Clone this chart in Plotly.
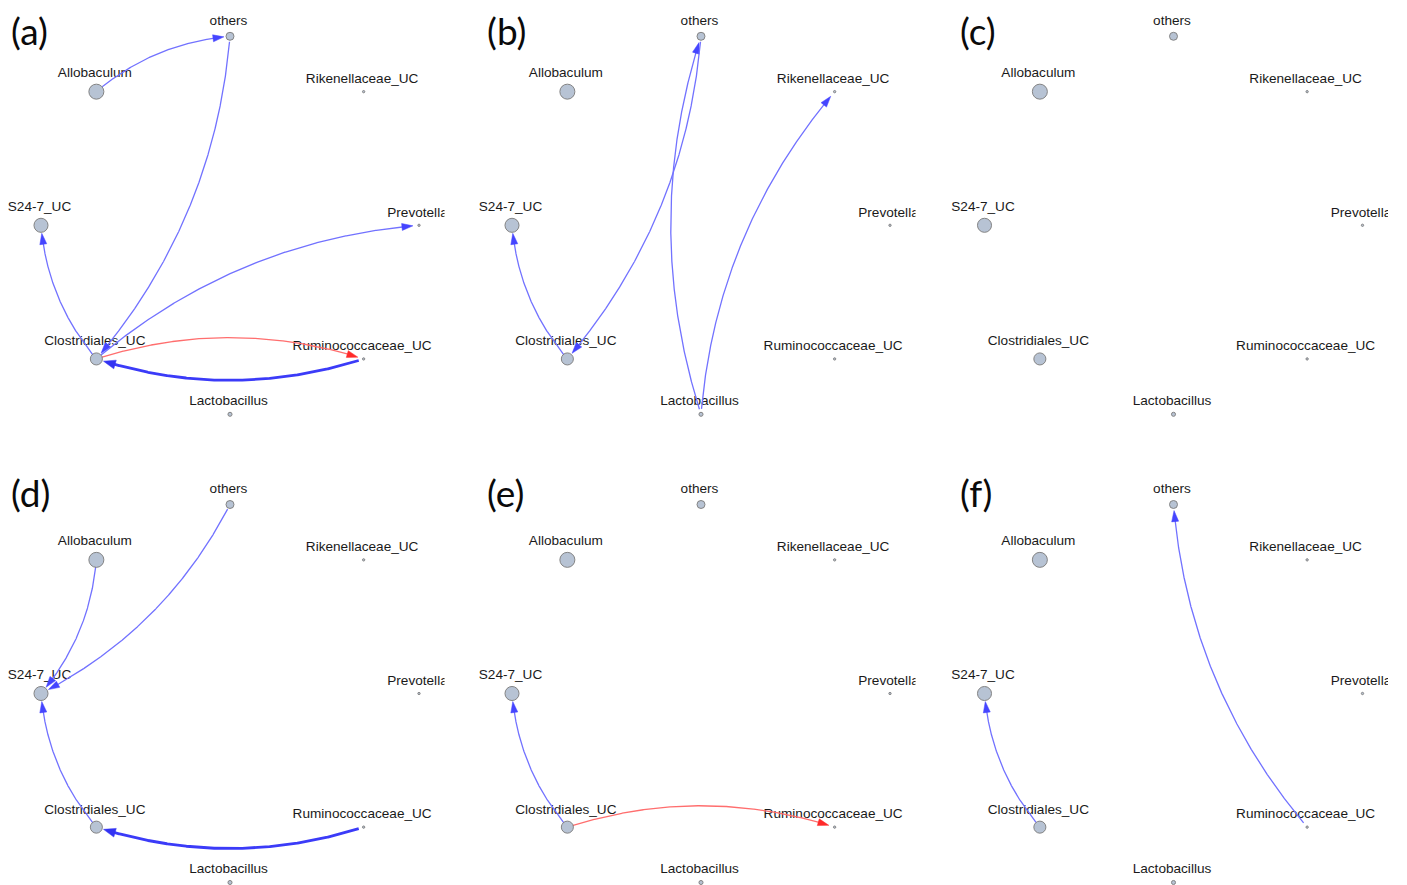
import numpy as np
import plotly.graph_objects as go

W, H = 1407, 885

# ---------------- data ----------------
nodes = ["others", "Allobaculum", "S24-7_UC", "Clostridiales_UC", "Lactobacillus",
         "Ruminococcaceae_UC", "Prevotella", "Rikenellaceae_UC"]
node_abundance = [0.48, 1.0, 0.93, 0.78, 0.19, 0.06, 0.06, 0.06]

panel_labels = ["(a)", "(b)", "(c)", "(d)", "(e)", "(f)"]

# (source, target, sign, weight)   sign: -1 blue, +1 red
edges_a = [("Allobaculum", "others", -1, 1),
           ("others", "Clostridiales_UC", -1, 1),
           ("Clostridiales_UC", "S24-7_UC", -1, 1),
           ("Clostridiales_UC", "Prevotella", -1, 1),
           ("Clostridiales_UC", "Ruminococcaceae_UC", 1, 1),
           ("Ruminococcaceae_UC", "Clostridiales_UC", -1, 3)]
edges_b = [("Clostridiales_UC", "S24-7_UC", -1, 1),
           ("Lactobacillus", "others", -1, 1),
           ("others", "Clostridiales_UC", -1, 1),
           ("Lactobacillus", "Rikenellaceae_UC", -1, 1)]
edges_c = []
edges_d = [("Allobaculum", "S24-7_UC", -1, 1),
           ("others", "S24-7_UC", -1, 1),
           ("Clostridiales_UC", "S24-7_UC", -1, 1),
           ("Ruminococcaceae_UC", "Clostridiales_UC", -1, 3)]
edges_e = [("Clostridiales_UC", "S24-7_UC", -1, 1),
           ("Clostridiales_UC", "Ruminococcaceae_UC", 1, 1)]
edges_f = [("Clostridiales_UC", "S24-7_UC", -1, 1),
           ("Ruminococcaceae_UC", "others", -1, 1)]
panel_edges = [edges_a, edges_b, edges_c, edges_d, edges_e, edges_f]

# ---------------- layout (circular) ----------------
R = 189.0
ang = np.deg2rad(90 + 45 * np.arange(len(nodes)))
pos = {n: np.array([R * np.cos(a), R * np.sin(a)]) for n, a in zip(nodes, ang)}
diam = {n: 1.5 + 13.5 * a for n, a in zip(nodes, node_abundance)}

# panel geometry in pixels (1 data unit = 1 px)
col_left = [0, 471, 943.5]
panel_w = 444.5
row_top = [0, 468]
row_h = [440, 417]
cx_off = 230
cy_off = [225.3, 225.5]

fig = go.Figure()
layout_axes = {}


def bezier(p0, p1, k=0.16, n=600):
    d = p1 - p0
    perp = np.array([-d[1], d[0]])
    c = (p0 + p1) / 2 + k * perp
    t = np.linspace(0, 1, n)[:, None]
    return (1 - t) ** 2 * p0 + 2 * (1 - t) * t * c + t ** 2 * p1


for i in range(6):
    r, c = divmod(i, 3)
    ax = "" if i == 0 else str(i + 1)
    x0 = col_left[c]
    y0 = row_top[r]
    layout_axes["xaxis" + ax] = dict(
        domain=[x0 / W, (x0 + panel_w) / W],
        range=[-cx_off, panel_w - cx_off], visible=False, fixedrange=True,
        anchor="y" + ax)
    layout_axes["yaxis" + ax] = dict(
        domain=[1 - (y0 + row_h[r]) / H, 1 - y0 / H],
        range=[cy_off[r] - row_h[r], cy_off[r]], visible=False, fixedrange=True,
        anchor="x" + ax)
    xa, ya = "x" + ax, "y" + ax

    # labels (drawn first; edges go over them)
    lx = [pos[n][0] - 1.5 for n in nodes]
    ly = [pos[n][1] + diam[n] / 2 + 11 for n in nodes]
    fig.add_trace(go.Scatter(
        x=lx, y=ly, text=nodes, mode="text", textposition="middle center",
        textfont=dict(family="Liberation Sans, Arial, sans-serif", size=13.6,
                      color="#1a1a1a"),
        cliponaxis=True, hoverinfo="skip", showlegend=False, xaxis=xa, yaxis=ya))

    # edges
    for (s, t, sign, w) in panel_edges[i]:
        p0, p1 = pos[s], pos[t]
        pts = bezier(p0, p1)
        ds = np.linalg.norm(pts - p0, axis=1)
        dt = np.linalg.norm(pts - p1, axis=1)
        r_start = max(diam[s] / 2, 5)
        r_tip = max(diam[t] / 2 + 1, 6)
        si = int(np.argmax(ds > r_start))
        ti = int(np.where(dt > r_tip)[0][-1])
        tip = pts[ti]
        alen = 11 if w == 1 else 12
        hw = 3.5 if w == 1 else 4.5
        j = ti
        while j > 0 and np.linalg.norm(pts[j] - tip) < alen:
            j -= 1
        u = tip - pts[j]
        u = u / np.linalg.norm(u)
        pu = np.array([-u[1], u[0]])
        base = tip - alen * u
        if sign < 0:
            lcol = "#7272ff" if w == 1 else "#3b3bf8"
            hcol = "#4545ff" if w == 1 else "#3333f2"
        else:
            lcol = "#ff6e6e"
            hcol = "#ff2a2a"
        lw = 1.3 if w == 1 else 2.8
        line_pts = np.vstack([pts[si:j + 1], base + 0.4 * alen * u])
        fig.add_trace(go.Scatter(
            x=line_pts[:, 0], y=line_pts[:, 1], mode="lines",
            line=dict(color=lcol, width=lw), hoverinfo="skip",
            showlegend=False, xaxis=xa, yaxis=ya))
        tri = np.array([tip, base + hw * pu, base - hw * pu, tip])
        fig.add_trace(go.Scatter(
            x=tri[:, 0], y=tri[:, 1], mode="lines", fill="toself",
            fillcolor=hcol, line=dict(color=hcol, width=0.5),
            hoverinfo="skip", showlegend=False, xaxis=xa, yaxis=ya))

    # nodes
    fig.add_trace(go.Scatter(
        x=[pos[n][0] for n in nodes], y=[pos[n][1] for n in nodes],
        mode="markers",
        marker=dict(size=[diam[n] for n in nodes], color="#9aaac2",
                    line=dict(color="#505050", width=1)),
        cliponaxis=False, hoverinfo="skip", showlegend=False, xaxis=xa, yaxis=ya))

annots = []
lab_pos = [(9, 30), (485, 30), (958, 30), (9, 492), (485, 492), (958, 492)]
for lab, (px, py) in zip(panel_labels, lab_pos):
    annots.append(dict(text=lab, x=px / W, y=1 - py / H, xref="paper", yref="paper",
                       xanchor="left", yanchor="middle", showarrow=False,
                       font=dict(family="Lato, Open Sans, sans-serif", size=37,
                                 color="#0a0a0a")))

fig.update_layout(
    width=W, height=H, margin=dict(l=0, r=0, t=0, b=0),
    paper_bgcolor="white", plot_bgcolor="white",
    annotations=annots, **layout_axes)

fig.write_html("out.html")
